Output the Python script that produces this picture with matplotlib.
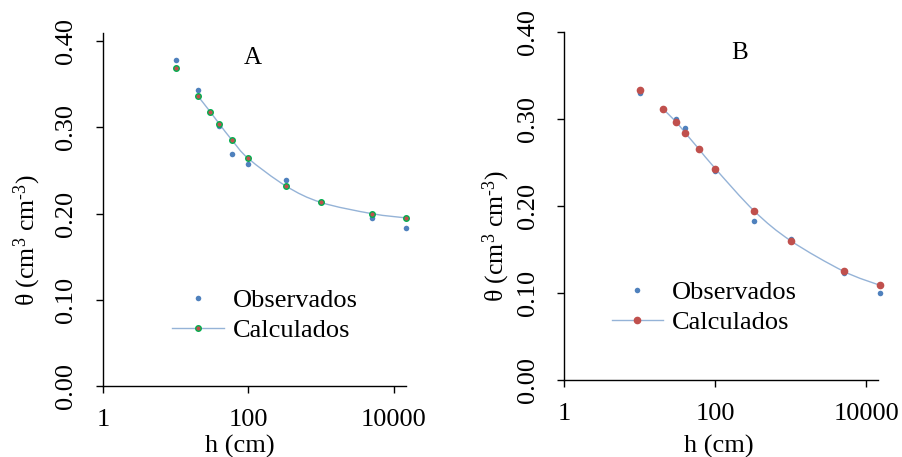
import numpy as np
import matplotlib
matplotlib.use('Agg')
import matplotlib.pyplot as plt
from matplotlib.lines import Line2D
from matplotlib.path import Path
from matplotlib.patches import PathPatch

plt.rcParams['font.family'] = ['Liberation Serif', 'DejaVu Serif']
plt.rcParams['mathtext.fontset'] = 'custom'
plt.rcParams['mathtext.rm'] = 'Liberation Serif'
plt.rcParams['mathtext.it'] = 'Liberation Serif:italic'

# pressure heads (cm)
h = [10, 20, 30, 40, 60, 100, 330, 1000, 5000, 15000]

# panel A
obs_a = [0.378, 0.343, 0.318, 0.302, 0.269, 0.258, 0.239, 0.213, 0.195, 0.183]
calc_a = [0.369, 0.337, 0.318, 0.304, 0.285, 0.264, 0.232, 0.213, 0.200, 0.195]

# panel B
obs_b = [0.330, 0.311, 0.300, 0.290, 0.265, 0.240, 0.183, 0.162, 0.123, 0.100]
calc_b = [0.333, 0.312, 0.297, 0.284, 0.266, 0.243, 0.194, 0.160, 0.125, 0.109]

OBS_COLOR = '#4f81bd'
LINE_COLOR = '#95b3d7'
FS = 19


def smooth_path(x, y):
    """Bezier curve through the points, computed in log-x space (like a smoothed line)."""
    u = np.log10(np.asarray(x, float))
    v = np.asarray(y, float)
    n = len(u)
    verts = [(x[0], y[0])]
    codes = [Path.MOVETO]
    for i in range(n - 1):
        i0, i2, i3 = max(i - 1, 0), i + 1, min(i + 2, n - 1)
        c1 = (u[i] + (u[i2] - u[i0]) / 6, v[i] + (v[i2] - v[i0]) / 6)
        c2 = (u[i2] - (u[i3] - u[i]) / 6, v[i2] - (v[i3] - v[i]) / 6)
        verts += [(10 ** c1[0], c1[1]), (10 ** c2[0], c2[1]), (x[i2], y[i2])]
        codes += [Path.CURVE4] * 3
    return Path(verts, codes)


def panel(ax, obs, calc, calc_face, calc_edge, ms, ylim_top, xmax, letter, letter_pos,
          leg_pos, xlabel_pos, ylabel_pos):
    ax.add_patch(PathPatch(smooth_path(h[1:], calc[1:]), fill=False,
                           edgecolor=LINE_COLOR, lw=1.0, zorder=2))
    ax.plot(h, obs, 'o', color=OBS_COLOR, ms=4.0, mew=0, zorder=3, clip_on=False)
    ax.plot(h, calc, 'o', mfc=calc_face, mec=calc_edge, ms=ms, mew=1.0, zorder=4,
            clip_on=False)

    ax.set_xscale('log')
    ax.set_xlim(1, xmax)
    ax.set_ylim(0, ylim_top)
    ax.set_xticks([1, 100, 10000])
    ax.set_xticklabels(['1', '100', '10000'])
    ax.xaxis.set_minor_locator(matplotlib.ticker.NullLocator())
    ax.set_yticks([0, 0.1, 0.2, 0.3, 0.4])
    ax.set_yticklabels(['0.00', '0.10', '0.20', '0.30', '0.40'], rotation=90, va='center')
    ax.tick_params(labelsize=FS, length=5, width=1, direction='out')
    ax.tick_params(axis='y', pad=13.5)
    ax.tick_params(axis='x', pad=11.5)
    for s in ['top', 'right']:
        ax.spines[s].set_visible(False)
    for s in ['left', 'bottom']:
        ax.spines[s].set_linewidth(1.0)

    ax.set_xlabel('h (cm)', fontsize=FS, va='center')
    ax.xaxis.set_label_coords(*xlabel_pos)
    ax.set_ylabel('θ (cm$^{3}$ cm$^{\u20103}$)', fontsize=18.5, va='center')
    ax.yaxis.set_label_coords(*ylabel_pos)

    ax.text(letter_pos[0], letter_pos[1], letter, transform=ax.transAxes,
            ha='center', va='center', fontsize=18)

    handles = [
        Line2D([], [], ls='none', marker='o', color=OBS_COLOR, ms=4.0, mew=0),
        Line2D([], [], color=LINE_COLOR, lw=1.0, marker='o', mfc=calc_face,
               mec=calc_edge, ms=ms, mew=1.0),
    ]
    ax.legend(handles, ['Observados', 'Calculados'], loc='upper left',
              bbox_to_anchor=leg_pos, frameon=False, fontsize=FS,
              handlelength=1.95, handletextpad=0.35, labelspacing=0.25,
              borderpad=0, borderaxespad=0)


fig = plt.figure(figsize=(9.03, 4.57), dpi=100)
ax_a = fig.add_axes([0.1141, 0.1554, 0.3355, 0.7724])
ax_b = fig.add_axes([0.6249, 0.1685, 0.3474, 0.7615])

panel(ax_a, obs_a, calc_a, '#c0504d', '#00b050', 4.0, 0.4096, 14820, 'A',
      (0.495, 0.929), (0.228, 0.275), (0.452, -0.17), (-0.25, 0.4136))
panel(ax_b, obs_b, calc_b, '#c0504d', '#c0504d', 4.5, 0.40, 14290, 'B',
      (0.560, 0.939), (0.151, 0.285), (0.4916, -0.19), (-0.2155, 0.414))

fig.savefig('out.png', dpi=100)
